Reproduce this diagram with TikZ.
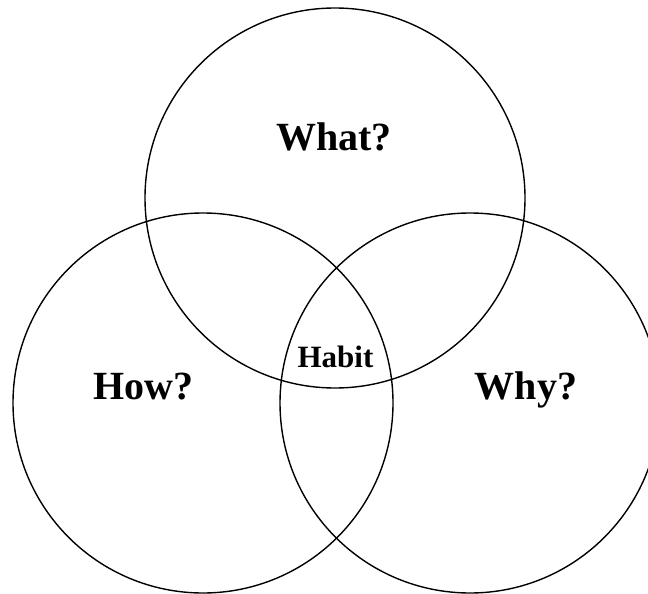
\documentclass[tikz,border=0pt]{standalone}
\usepackage{fontspec}
\setmainfont{Liberation Serif}
\tikzset{
  bigword/.style={anchor=base,font=\fontsize{40}{40}\selectfont\bfseries},
  smallword/.style={anchor=base,font=\fontsize{31}{31}\selectfont\bfseries}
}
\begin{document}
\begin{tikzpicture}[x=1pt,y=-1pt,line width=1.4pt]
  \useasboundingbox (0,0) rectangle (648,594);
  % 圆心
  \coordinate (T) at (335,198);
  \coordinate (L) at (203,403);
  \coordinate (R) at (470,403);
  % 三个圆
  \draw (T) circle (190pt);
  \draw (L) circle (190pt);
  \draw (R) circle (190pt);
  % 标注
  \node[bigword] (what) at (334,150) {What?};
  \node[bigword] (how) at (143,399) {How?};
  \node[bigword] (why) at (526,399) {Why?};
  % 中间
  \node[smallword] (habit) at (335.5,367) {Habit};
\end{tikzpicture}
\end{document}
